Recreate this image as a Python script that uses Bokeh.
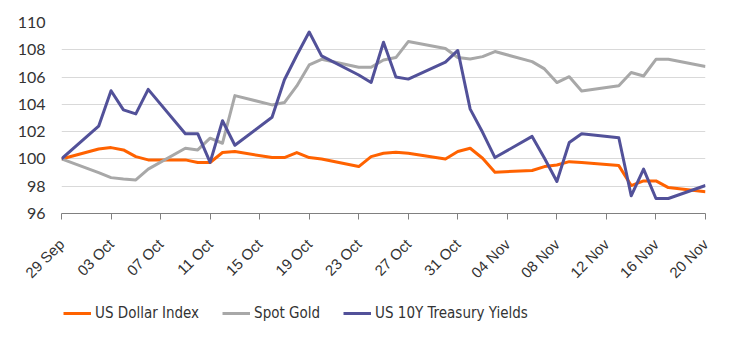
import math
import pandas as pd
from bokeh.plotting import figure
from bokeh.layouts import column
from bokeh.models import (Range1d, FixedTicker, DatetimeTickFormatter, Legend, LegendItem,
                          ColumnDataSource)
from bokeh.embed import file_html
from bokeh.resources import INLINE

dates = ["2023-09-29", "2023-10-02", "2023-10-03", "2023-10-04", "2023-10-05", "2023-10-06",
         "2023-10-09", "2023-10-10", "2023-10-11", "2023-10-12", "2023-10-13",
         "2023-10-16", "2023-10-17", "2023-10-18", "2023-10-19", "2023-10-20",
         "2023-10-23", "2023-10-24", "2023-10-25", "2023-10-26", "2023-10-27",
         "2023-10-30", "2023-10-31", "2023-11-01", "2023-11-02", "2023-11-03",
         "2023-11-06", "2023-11-07", "2023-11-08", "2023-11-09", "2023-11-10",
         "2023-11-13", "2023-11-14", "2023-11-15", "2023-11-16", "2023-11-17",
         "2023-11-20"]

us_dollar_index = [100, 100.73, 100.83, 100.66, 100.17, 99.93, 99.93, 99.74, 99.74, 100.47,
                   100.54, 100.1, 100.1, 100.47, 100.1, 100.0, 99.44, 100.17, 100.42, 100.49,
                   100.42, 100.0, 100.54, 100.78, 100.05, 99.03, 99.15, 99.44, 99.56, 99.8,
                   99.74, 99.51, 98.05, 98.39, 98.39, 97.9, 97.6]

spot_gold = [100, 99.0, 98.63, 98.53, 98.46, 99.25, 100.78, 100.66, 101.52, 101.15, 104.64,
             103.96, 104.13, 105.35, 106.89, 107.3, 106.72, 106.72, 107.25, 107.43, 108.6,
             108.1, 107.43, 107.33, 107.5, 107.87, 107.13, 106.6, 105.6, 106.03, 104.98,
             105.37, 106.33, 106.08, 107.3, 107.3, 106.77]

us_10y_yields = [100, 102.4, 105.0, 103.6, 103.3, 105.1, 101.85, 101.85, 99.75, 102.8, 101.0,
                 103.05, 105.8, 107.6, 109.3, 107.55, 106.15, 105.6, 108.55, 106.0, 105.85,
                 107.1, 107.95, 103.65, 101.95, 100.1, 101.65, 100.05, 98.35, 101.2, 101.85,
                 101.55, 97.3, 99.25, 97.1, 97.1, 98.05]

series_names = ["US Dollar Index", "Spot Gold", "US 10Y Treasury Yields"]
series_colors = ["#FF6200", "#A8A8A8", "#525199"]

tick_dates = ["2023-09-29", "2023-10-03", "2023-10-07", "2023-10-11", "2023-10-15",
              "2023-10-19", "2023-10-23", "2023-10-27", "2023-10-31", "2023-11-04",
              "2023-11-08", "2023-11-12", "2023-11-16", "2023-11-20"]
y_ticks = [96, 98, 100, 102, 104, 106, 108, 110]

x = pd.to_datetime(dates)
src = ColumnDataSource(dict(x=x, usd=us_dollar_index, gold=spot_gold, yld=us_10y_yields))
keys = ["usd", "gold", "yld"]

p = figure(frame_width=644, frame_height=191, output_backend="svg", toolbar_location=None,
           x_axis_type="datetime",
           x_range=Range1d(pd.Timestamp(dates[0]), pd.Timestamp(dates[-1])),
           y_range=Range1d(96, 110),
           min_border_left=61, min_border_right=39, min_border_top=22, min_border_bottom=0)
p.outline_line_color = None
p.background_fill_color = "white"
p.border_fill_color = "white"

p.xgrid.grid_line_color = None
p.ygrid.grid_line_color = "#D9D9D9"
p.ygrid.grid_line_width = 1

p.yaxis.ticker = FixedTicker(ticks=y_ticks)
p.yaxis.axis_line_color = None
p.yaxis.major_tick_line_color = None
p.yaxis.minor_tick_line_color = None
p.yaxis.major_tick_out = 0
p.yaxis.major_tick_in = 0
p.yaxis.major_label_standoff = 16
p.yaxis.major_label_text_font = "Lato"
p.yaxis.major_label_text_font_size = "16px"
p.yaxis.major_label_text_color = "#333333"

tick_ms = [pd.Timestamp(d).value / 1e6 for d in tick_dates]
p.xaxis.ticker = FixedTicker(ticks=tick_ms)
p.xaxis.formatter = DatetimeTickFormatter(days="%d %b", months="%d %b")
p.xaxis.axis_line_color = "#808080"
p.xaxis.major_tick_line_color = "#808080"
p.xaxis.major_tick_out = 6
p.xaxis.major_tick_in = 0
p.xaxis.minor_tick_line_color = None
p.xaxis.major_label_orientation = math.pi / 4
p.xaxis.major_label_text_font = "Liberation Sans"
p.xaxis.major_label_text_font_size = "15px"
p.xaxis.major_label_text_color = "#333333"
p.xaxis.major_label_standoff = 22

for k, c in zip(keys, series_colors):
    p.line("x", k, source=src, line_color=c, line_width=3, line_join="round")

# legend strip below the chart (series drawn off-range so only the legend shows)
lg = figure(width=744, height=50, output_backend="svg", toolbar_location=None,
            x_axis_location=None, y_axis_location=None, min_border=0,
            x_range=Range1d(0, 1), y_range=Range1d(0, 1))
lg.outline_line_color = None
lg.grid.grid_line_color = None
lg.background_fill_color = "white"
lg.border_fill_color = "white"
lg_renderers = [lg.line("x", k, source=src, line_color=c, line_width=3)
                for k, c in zip(keys, series_colors)]

legend = Legend(items=[LegendItem(label=n, renderers=[r]) for n, r in zip(series_names, lg_renderers)],
                orientation="horizontal", location=(2, 18),
                border_line_color=None, background_fill_alpha=0,
                glyph_width=28, glyph_height=14, label_standoff=4, spacing=23,
                label_text_font="Liberation Sans Narrow, DejaVu Sans Condensed, sans-serif",
                label_text_font_size="15px", label_text_color="#333333",
                padding=2, margin=0)
lg.add_layout(legend, "center")

layout = column(p, lg, spacing=0)
open("out.html", "w").write(file_html(layout, INLINE))
